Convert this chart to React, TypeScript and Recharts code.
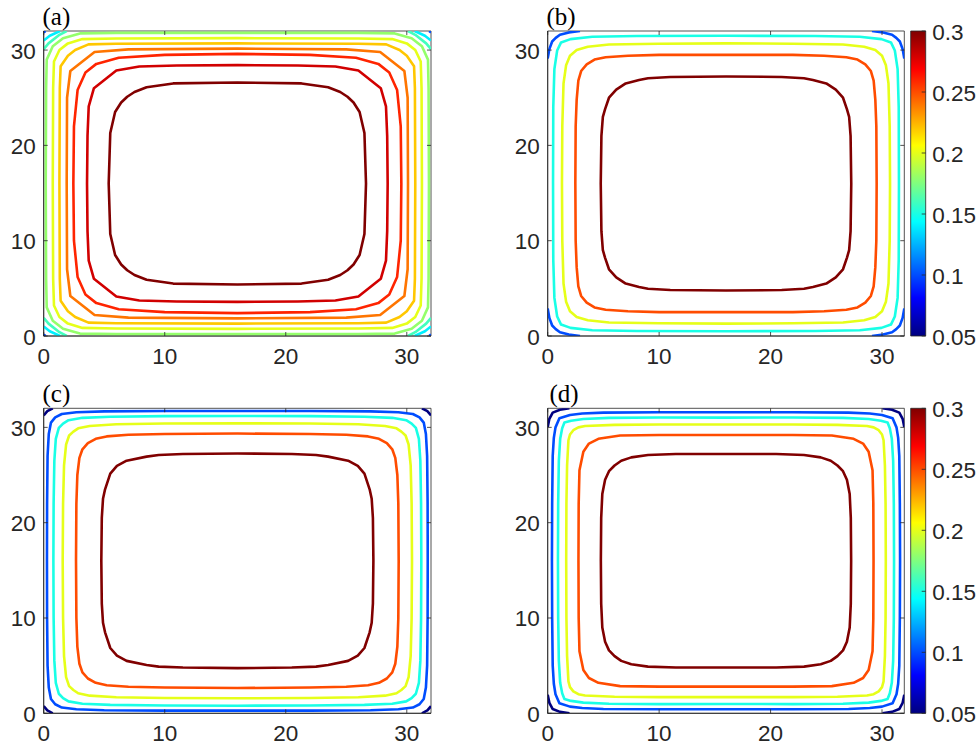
import React from "react";
import { LineChart, Line, XAxis, YAxis, ReferenceArea } from "recharts";

const axisTicks = [0, 10, 20, 30];
const barTicks = [0.05, 0.1, 0.15, 0.2, 0.25, 0.3];
const cmin = 0.05;
const cmax = 0.3;

type P = [number, number][];

// quarter profiles (top-left quarter):
// [distance from left edge, distance from top edge], from left-mid to top-mid
const a30: P = [[5.37, 16], [5.5, 10.7], [5.9, 8.5], [6.4, 7.5], [6.9, 6.9], [7.5, 6.4], [8.5, 5.9], [10.7, 5.5], [16, 5.4]];
const a28: P = [[3.58, 16], [3.62, 11], [3.72, 7.9], [4.15, 6], [6, 4.15], [7.9, 3.72], [11, 3.62], [16, 3.58]];
const a26: P = [[2.45, 16], [2.5, 10], [2.8, 6.2], [3.45, 4.35], [4.35, 3.45], [6.2, 2.8], [10, 2.5], [16, 2.4]];
const a24: P = [[1.9, 16], [1.93, 7], [2.2, 4.2], [4.2, 2.2], [7, 1.93], [16, 1.85]];
const a22: P = [[1.3, 16], [1.33, 6], [1.4, 3.7], [2.0, 2.6], [2.6, 2.0], [3.7, 1.4], [6, 1.33], [16, 1.3]];
const a20: P = [[0.75, 16], [0.78, 6], [0.85, 3.2], [1.3, 2.0], [2.0, 1.3], [3.2, 0.85], [6, 0.78], [16, 0.75]];
const a18: P = [[0.17, 16], [0.2, 6], [0.25, 3], [0.75, 1.6], [1.6, 0.75], [3, 0.25], [6, 0.2], [16, 0.2]];
const a16c: P = [[0, 1.9], [0.4, 1.3], [1.3, 0.4], [1.9, 0]];
const a14c: P = [[0, 1.0], [0.5, 0.5], [1.35, 0]];
const a10c: P = [[0, 0.15], [0.15, 0]];

const b30: P = [[4.76, 16], [4.82, 11], [4.95, 9], [5.15, 8.2], [5.5, 7.0], [6.15, 6.15], [7.0, 5.5], [8.2, 5.15], [9, 4.95], [11, 4.82], [16, 4.78]];
const b25: P = [[2.48, 16], [2.51, 10], [2.6, 7.2], [2.75, 5.2], [3.0, 4.2], [3.5, 3.5], [4.2, 3.0], [5.2, 2.75], [7.2, 2.6], [10, 2.51], [16, 2.5]];
const b20: P = [[1.28, 16], [1.31, 10], [1.42, 5.5], [1.65, 3.6], [2.0, 2.6], [2.6, 2.0], [3.6, 1.65], [5.5, 1.42], [10, 1.33], [16, 1.3]];
const b15: P = [[0.48, 16], [0.5, 8], [0.6, 4], [0.85, 2.05], [1.2, 1.2], [2.05, 0.85], [4, 0.6], [8, 0.52], [16, 0.5]];
const b10c: P = [[0, 2.9], [0.15, 1.9], [0.4, 1.1], [0.72, 0.72], [1.1, 0.4], [1.9, 0.15], [2.9, 0]];

const c30: P = [[4.76, 16], [4.8, 11.5], [4.9, 9.5], [5.07, 8.5], [5.5, 6.85], [6.05, 6.05], [6.85, 5.5], [8.5, 5.07], [9.5, 4.9], [11.5, 4.8], [16, 4.74]];
const c25: P = [[2.67, 16], [2.7, 10], [2.78, 7], [2.95, 5.2], [3.2, 4.3], [3.65, 3.65], [4.3, 3.2], [5.2, 2.95], [7, 2.78], [10, 2.7], [16, 2.65]];
const c20: P = [[1.57, 16], [1.6, 10], [1.68, 6], [1.85, 3.8], [2.1, 2.85], [2.45, 2.45], [2.85, 2.1], [3.8, 1.85], [6, 1.68], [10, 1.6], [16, 1.58]];
const c15: P = [[0.8, 16], [0.82, 10], [0.88, 5.5], [1.0, 3.2], [1.25, 2.05], [1.6, 1.6], [2.05, 1.25], [3.2, 1.0], [5.5, 0.88], [10, 0.82], [16, 0.8]];
const c10: P = [[0.27, 16], [0.28, 10], [0.32, 5], [0.42, 2.7], [0.6, 1.5], [0.95, 0.95], [1.5, 0.6], [2.7, 0.42], [5, 0.32], [10, 0.28], [16, 0.28]];
const c05c: P = [[0, 0.75], [0.3, 0.3], [0.75, 0]];

const d30: P = [[4.77, 16], [4.8, 11.5], [4.9, 9], [5.15, 7.5], [5.5, 6.6], [6.0, 6.0], [6.6, 5.5], [7.5, 5.15], [9, 4.9], [11.5, 4.8], [16, 4.8]];
const d25: P = [[2.76, 16], [2.78, 10], [2.85, 6.5], [3.2, 4.55], [3.7, 3.7], [4.55, 3.2], [6.5, 2.85], [10, 2.8], [16, 2.8]];
const d20: P = [[1.66, 16], [1.68, 10], [1.74, 6], [1.86, 3.35], [2.0, 2.75], [2.3, 2.3], [2.75, 2.0], [3.35, 1.86], [6, 1.74], [10, 1.7], [16, 1.7]];
const d15: P = [[0.92, 16], [0.94, 10], [1.0, 5.5], [1.12, 3.2], [1.3, 2.1], [1.5, 1.5], [2.1, 1.3], [3.2, 1.12], [5.5, 1.0], [10, 0.96], [16, 0.98]];
const d10: P = [[0.38, 16], [0.4, 10], [0.45, 5], [0.55, 3.1], [0.7, 2.0], [1.05, 1.05], [2.0, 0.7], [3.1, 0.55], [5, 0.45], [10, 0.42], [16, 0.42]];
const d05c: P = [[0, 1.95], [0.15, 1.1], [0.45, 0.45], [1.1, 0.15], [1.95, 0]];

const loopsA = [{ level: 0.3, pts: a30 }, { level: 0.28, pts: a28 }, { level: 0.26, pts: a26 }, { level: 0.24, pts: a24 }, { level: 0.22, pts: a22 }, { level: 0.2, pts: a20 }, { level: 0.18, pts: a18 }];
const cornersA = [{ level: 0.16, pts: a16c }, { level: 0.14, pts: a14c }, { level: 0.1, pts: a10c }];
const loopsB = [{ level: 0.3, pts: b30 }, { level: 0.25, pts: b25 }, { level: 0.2, pts: b20 }, { level: 0.15, pts: b15 }];
const cornersB = [{ level: 0.1, pts: b10c }];
const loopsC = [{ level: 0.3, pts: c30 }, { level: 0.25, pts: c25 }, { level: 0.2, pts: c20 }, { level: 0.15, pts: c15 }, { level: 0.1, pts: c10 }];
const cornersC = [{ level: 0.05, pts: c05c }];
const loopsD = [{ level: 0.3, pts: d30 }, { level: 0.25, pts: d25 }, { level: 0.2, pts: d20 }, { level: 0.15, pts: d15 }, { level: 0.1, pts: d10 }];
const cornersD = [{ level: 0.05, pts: d05c }];

function jet(v: number) {
  const t = (v - cmin) / (cmax - cmin);
  const c = (k: number) => Math.round(255 * Math.max(0, Math.min(1, 1.5 - Math.abs(4 * t - k))));
  return `rgb(${c(3)},${c(2)},${c(1)})`;
}

// the field is symmetric about x = 16 and y = 16
function loop(p: P) {
  const tl = p.map(([u, v]) => ({ x: u, y: 32 - v }));
  const tr = [...p].reverse().map(([u, v]) => ({ x: 32 - u, y: 32 - v }));
  const br = p.map(([u, v]) => ({ x: 32 - u, y: v }));
  const bl = [...p].reverse().map(([u, v]) => ({ x: u, y: v }));
  return [...tl, ...tr, ...br, ...bl];
}
function corners(p: P) {
  return [
    p.map(([u, v]) => ({ x: u, y: 32 - v })),
    p.map(([u, v]) => ({ x: 32 - u, y: 32 - v })),
    p.map(([u, v]) => ({ x: 32 - u, y: v })),
    p.map(([u, v]) => ({ x: u, y: v })),
  ];
}

const sans = '"Liberation Sans", Arial, Helvetica, sans-serif';
const ink = "#262626";
const PW = { a: 387.3, b: 356.6 };
const PH = 305;

function Panel({ loops, cornerSets, left, top, yw, plotW, padTop, H }: any) {
  const W = 440;
  const bottomTick = (p: any) => (
    <g>
      <line x1={p.x} x2={p.x} y1={p.y} y2={p.y - 4} stroke={ink} strokeWidth={0.8} />
      <line x1={p.x} x2={p.x} y1={p.y - PH} y2={p.y - PH + 4} stroke={ink} strokeWidth={0.8} />
      <text x={p.x} y={p.y + 20.5} textAnchor="middle" dominantBaseline="central" fontSize={22.5} fontFamily={sans} fill={ink}>
        {p.payload.value}
      </text>
    </g>
  );
  const leftTick = (p: any) => (
    <g>
      <line x1={p.x} x2={p.x + 4} y1={p.y} y2={p.y} stroke={ink} strokeWidth={0.8} />
      <line x1={p.x + plotW} x2={p.x + plotW - 4} y1={p.y} y2={p.y} stroke={ink} strokeWidth={0.8} />
      <text x={p.x - 8} y={p.y + 1} textAnchor="end" dominantBaseline="central" fontSize={22.5} fontFamily={sans} fill={ink}>
        {p.payload.value}
      </text>
    </g>
  );
  return (
    <div style={{ position: "absolute", left, top, width: W, height: H }}>
      <LineChart width={W} height={H} margin={{ top: padTop, right: W - yw - plotW, bottom: H - padTop - PH - 30, left: 0 }}>
        <XAxis type="number" dataKey="x" domain={[0, 32]} ticks={axisTicks} allowDataOverflow interval={0}
          height={30} tickSize={0} tickMargin={0} tick={bottomTick} axisLine={{ stroke: ink, strokeWidth: 0.8 }} />
        <YAxis type="number" dataKey="y" domain={[0, 32]} ticks={axisTicks} allowDataOverflow interval={0}
          width={yw} tickSize={0} tickMargin={0} tick={leftTick} axisLine={{ stroke: ink, strokeWidth: 0.8 }} />
        {loops.map((l: any, i: number) => (
          <Line key={"l" + i} data={loop(l.pts)} dataKey="y" type="linear" stroke={jet(l.level)} strokeWidth={2.6}
            dot={false} activeDot={false} isAnimationActive={false} strokeLinejoin="round" />
        ))}
        {cornerSets.flatMap((c: any, i: number) =>
          corners(c.pts).map((seg, j) => (
            <Line key={"c" + i + "-" + j} data={seg} dataKey="y" type="linear" stroke={jet(c.level)} strokeWidth={2.6}
              dot={false} activeDot={false} isAnimationActive={false} strokeLinejoin="round" />
          ))
        )}
        <ReferenceArea x1={0} x2={32} y1={0} y2={32} fill="none" stroke={ink} strokeWidth={0.8} ifOverflow="visible" />
      </LineChart>
    </div>
  );
}

function ColorBar({ top, padTop, id }: any) {
  const W = 79;
  const H = 360;
  const tick = (p: any) => (
    <g>
      <line x1={p.x} x2={p.x - 4} y1={p.y} y2={p.y} stroke={ink} strokeWidth={0.8} />
      <text x={p.x + 6.5} y={p.y + 1} textAnchor="start" dominantBaseline="central" fontSize={22.5} fontFamily={sans} fill={ink}>
        {String(p.payload.value)}
      </text>
    </g>
  );
  return (
    <div style={{ position: "absolute", left: 900, top, width: W, height: H }}>
      <LineChart width={W} height={H} data={[{ x: 0, y: cmin }, { x: 1, y: cmax }]}
        margin={{ top: padTop, right: W - 25.7 - 45, bottom: H - padTop - PH, left: 10.7 }}>
        <defs>
          <linearGradient id={id} x1="0" y1="1" x2="0" y2="0">
            <stop offset="0" stopColor="#000080" />
            <stop offset="0.125" stopColor="#0000ff" />
            <stop offset="0.375" stopColor="#00ffff" />
            <stop offset="0.625" stopColor="#ffff00" />
            <stop offset="0.875" stopColor="#ff0000" />
            <stop offset="1" stopColor="#800000" />
          </linearGradient>
        </defs>
        <XAxis type="number" dataKey="x" domain={[0, 1]} hide />
        <YAxis type="number" dataKey="y" orientation="right" domain={[cmin, cmax]} ticks={barTicks} interval={0} width={45}
          tickSize={0} tickMargin={0} tick={tick} axisLine={false} />
        <Line dataKey="y" stroke="none" dot={false} activeDot={false} isAnimationActive={false} />
        <ReferenceArea x1={0} x2={1} y1={cmin} y2={cmax} fill={`url(#${id})`} fillOpacity={1} stroke={ink} strokeWidth={0.8} ifOverflow="visible" />
      </LineChart>
    </div>
  );
}

export default function App() {
  const serif = '"Liberation Serif", "Times New Roman", serif';
  return (
    <div style={{ position: "absolute", left: 0, top: 0, width: 979, height: 746, background: "#fff", overflow: "hidden" }}>
      <Panel loops={loopsA} cornerSets={cornersA} left={0} top={0} yw={43.7} plotW={PW.a} padTop={31} H={378} />
      <Panel loops={loopsB} cornerSets={cornersB} left={480} top={0} yw={67.7} plotW={PW.b} padTop={31} H={378} />
      <Panel loops={loopsC} cornerSets={cornersC} left={0} top={380} yw={43.7} plotW={PW.a} padTop={28.3} H={366} />
      <Panel loops={loopsD} cornerSets={cornersD} left={480} top={380} yw={67.7} plotW={PW.b} padTop={28.3} H={366} />
      <ColorBar top={0} padTop={31} id="jetB" />
      <ColorBar top={380} padTop={28.3} id="jetD" />
      <svg width={979} height={746} style={{ position: "absolute", left: 0, top: 0, pointerEvents: "none" }}>
        <text x={42.5} y={24.5} fontSize={25} fontFamily={serif} fill="#000">(a)</text>
        <text x={546.5} y={24.5} fontSize={25} fontFamily={serif} fill="#000">(b)</text>
        <text x={42.5} y={401.5} fontSize={25} fontFamily={serif} fill="#000">(c)</text>
        <text x={549.5} y={401.5} fontSize={25} fontFamily={serif} fill="#000">(d)</text>
      </svg>
    </div>
  );
}
